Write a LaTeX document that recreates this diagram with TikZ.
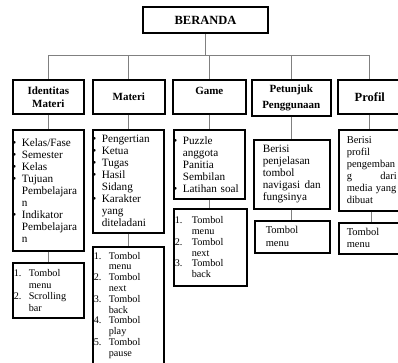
\documentclass[tikz,border=0pt]{standalone}
\usepackage{fontspec}
\setmainfont{Liberation Serif}

\newcommand{\bitem}{\makebox[8pt][l]{\hspace{-1.5pt}\textbullet}}
\newcommand{\bind}{\hspace*{8pt}}
\newcommand{\nitem}[2][15pt]{\makebox[#1][l]{#2}}
\newcommand{\nind}[1][15pt]{\hspace*{#1}}

\begin{document}
\begin{tikzpicture}[x=1pt, y=-1pt,
  boxStyle/.style={draw, line width=1.6pt, inner sep=0pt},
  headStyle/.style={boxStyle, align=center, font=\fontsize{11}{13}\selectfont\bfseries},
  listStyle/.style={boxStyle, anchor=north west, align=left, inner xsep=1pt, font=\fontsize{11.2}{12}\selectfont},
  tombolStyle/.style={listStyle, font=\fontsize{10.2}{10.8}\selectfont},
  lineStyle/.style={draw=gray, line width=1pt}
]
\useasboundingbox (0,0) rectangle (398,363);

% top
\node[headStyle, minimum width=125pt, minimum height=26pt, font=\fontsize{12.5}{15}\selectfont\bfseries] (beranda) at (205.5,20) {BERANDA};

% menu row
\node[headStyle, anchor=north west, minimum width=71pt, minimum height=34pt] (identitas) at (12,79) {Identitas\\Materi};
\node[headStyle, anchor=north west, minimum width=72pt, minimum height=34pt] (materi) at (92,79) {Materi};
\node[headStyle, anchor=north west, minimum width=73pt, minimum height=34pt] (game) at (172,79) {\raisebox{12pt}{Game}};
\node[headStyle, anchor=north west, minimum width=79pt, minimum height=36pt, font=\fontsize{11}{16}\selectfont\bfseries] (petunjuk) at (251,79) {Petunjuk\\Penggunaan};
\node[headStyle, anchor=north west, minimum width=64pt, minimum height=34pt, font=\fontsize{12.5}{15}\selectfont\bfseries] (profil) at (337,79) {Profil};

% contents
\node[listStyle, text width=69pt, minimum height=121pt] (identitasIsi) at (12,129)
  {\bitem Kelas/Fase\\ \bitem Semester\\ \bitem Kelas\\ \bitem Tujuan\\ \bind Pembelajara\\ \bind n\\ \bitem Indikator\\ \bind Pembelajara\\ \bind n};
\node[listStyle, text width=69pt, minimum height=103pt] (materiIsi) at (92,129)
  {\bitem Pengertian\\ \bitem Ketua\\ \bitem Tugas\\ \bitem Hasil\\ \bind Sidang\\ \bitem Karakter\\ \bind yang\\ \bind diteladani};
\node[listStyle, text width=69pt, minimum height=69pt] (gameIsi) at (173,129)
  {\bitem Puzzle\\ \bind anggota\\ \bind Panitia\\ \bind Sembilan\\ \bitem Latihan soal};
\node[listStyle, inner xsep=9pt, text width=58pt, minimum height=69pt] (petunjukIsi) at (253,139)
  {Berisi\\ penjelasan\\ tombol\\ navigasi\hfill dan\\ fungsinya};
\node[listStyle, inner xsep=8pt, text width=50pt, minimum height=81pt, font=\fontsize{10.5}{12}\selectfont] (profilIsi) at (338,129)
  {Berisi\\ profil\\ \mbox{pengemban}\\ g\hfill dari\\ \mbox{media yang}\\ dibuat};

% buttons
\node[tombolStyle, text width=69pt, minimum height=55pt, font=\fontsize{10.2}{11.5}\selectfont] (identitasTombol) at (12,262)
  {\nitem{1.}Tombol\\ \nind menu\\ \nitem{2.}Scrolling\\ \nind bar};
\node[tombolStyle, text width=69pt, minimum height=117pt] (materiTombol) at (92,246)
  {\nitem{1.}Tombol\\ \nind menu\\ \nitem{2.}Tombol\\ \nind next\\ \nitem{3.}Tombol\\ \nind back\\ \nitem{4.}Tombol\\ \nind play\\ \nitem{5.}Tombol\\ \nind pause};
\node[tombolStyle, text width=71pt, minimum height=77pt] (gameTombol) at (173,208)
  {\nitem[17pt]{1.}Tombol\\ \nind[17pt]menu\\ \nitem[17pt]{2.}Tombol\\ \nind[17pt]next\\ \nitem[17pt]{3.}Tombol\\ \nind[17pt]back};
\node[listStyle, inner xsep=11pt, text width=53pt, minimum height=32pt, font=\fontsize{10.5}{13}\selectfont] (petunjukTombol) at (254,220)
  {Tombol\\ menu};
\node[listStyle, inner xsep=8pt, text width=51pt, minimum height=31pt, font=\fontsize{10.5}{12}\selectfont] (profilTombol) at (338,222)
  {Tombol\\ menu};

% connectors
\coordinate (bus) at (205.5,56);
\draw[lineStyle] (beranda.south) -- (bus);
\foreach \kid in {identitas,materi,game,petunjuk,profil}{
  \draw[lineStyle] (bus) -| (\kid.north);
  \draw[lineStyle] (\kid.south) -- (\kid.south |- \kid Isi.north);
  \draw[lineStyle] (\kid Isi.south) -- (\kid Isi.south |- \kid Tombol.north);
}
\end{tikzpicture}
\end{document}
